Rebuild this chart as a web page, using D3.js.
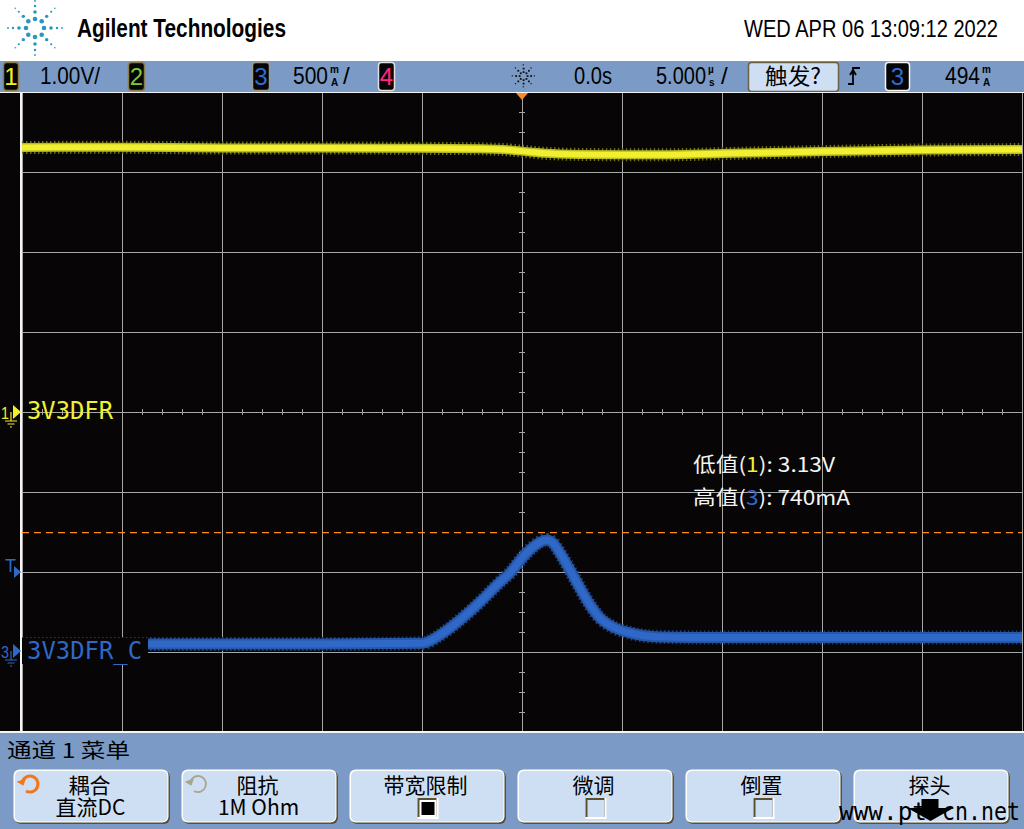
<!DOCTYPE html>
<html><head><meta charset="utf-8">
<script src="https://cdn.jsdelivr.net/npm/d3@7/dist/d3.min.js"></script>
<style>html,body{margin:0;padding:0;background:#fff;overflow:hidden}svg{display:block}</style>
</head><body><svg id="c" width="1024" height="829"></svg>
<script>
// ---------------- data ----------------
const timeTicksUs = [-25,-20,-15,-10,-5,0,5,10,15,20,25];        // 5.000 µs/div
const voltDivs = [4,3,2,1,0,-1,-2,-3,-4];                           // vertical divisions
const ch1TimeUs = [-25,-20,-15,-10,-5,-2.1,-0.6,0.4,1.15,2.9,5,7.5,10,15,20,25];
const ch1Volts  = [3.306,3.31,3.30,3.30,3.296,3.29,3.275,3.25,3.234,3.22,3.216,3.216,3.23,3.256,3.275,3.28];
const ch3TimeUs = [-25,-18,-10,-5,-4.1,-3.1,-2.1,-1.1,-0.6,0,0.55,0.9,1.25,1.55,1.9,2.4,2.9,3.4,3.9,4.55,5.4,6.9,10,25];
const ch3mA     = [44,44,44,48,100,194,306,431,488,581,650,681,694,675,613,506,394,288,206,150,113,88,84,84];
const triggerLevel_mA = 494;
const maxCursor_mA = 740;
const headerTitle = "Agilent Technologies";
const headerDate = "WED APR 06 13:09:12 2022";
const ch1Label = "3V3DFR", ch3Label = "3V3DFR_C";
const measLines = [["低值(","1","): 3.13V"],["高值(","3","): 740mA"]];
const menuTitle = "通道 1 菜单";
const menuTop = ["耦合","阻抗","带宽限制","微调","倒置","探头"];
const menuBottom = ["直流DC","1M Ohm","","","",""];
const menuCtrl = ["knob","knobDim","checkOn","checkOff","checkOff","arrow"];

// ---------------- setup ----------------
const svg = d3.select('#c');
const FONT = '"Liberation Sans", Arial, "Noto Sans CJK SC", sans-serif';
const CJK = '"Noto Sans CJK SC", "Liberation Sans", sans-serif';
const MONO = '"DejaVu Sans Mono", "Liberation Mono", monospace';
const BAR = '#7b9bc6', BTN = '#cfdff3', DARK = '#5a5030';
const YEL = '#f0f030', BLU = '#2f68c6', ORG = '#ff8a1c';

const G = {left:22, right:1022, top:92, bottom:732};
const x = d3.scaleLinear().domain([-25,25]).range([G.left,G.right]);
const yDiv = d3.scaleLinear().domain([4,-4]).range([G.top,G.bottom]);
const yV = d3.scaleLinear().domain([0,1]).range([412,332]);      // ch1 1.00 V/div
const yA = d3.scaleLinear().domain([0,500]).range([651,571]);    // ch3 500 mA/div

function txt(g, s, o){
  const t = g.append('text').text(s)
    .attr('x',o.x).attr('y',o.y)
    .attr('font-family',o.ff||FONT).attr('font-size',o.fs||20)
    .attr('fill',o.fill||'#000');
  if(o.anchor) t.attr('text-anchor',o.anchor);
  if(o.fw) t.attr('font-weight',o.fw);
  if(o.len) t.attr('textLength',o.len).attr('lengthAdjust','spacingAndGlyphs');
  return t;
}

// ---------------- header ----------------
svg.append('rect').attr('width',1024).attr('height',61).attr('fill','#fff');
const logo = svg.append('g').attr('fill','#2a97bd');
const cx0=35, cy0=28;
d3.range(8).forEach(i=>{
  const a = i*Math.PI/4 - Math.PI/2;
  const card = i%2===0;
  const rings = card ? [[9,2.3],[16,1.8],[22,1.2],[27,0.9]] : [[9.5,2.3],[16.5,1.7],[23,1.1],[28,0.8]];
  rings.forEach(([r,s])=>logo.append('circle').attr('cx',cx0+r*Math.cos(a)).attr('cy',cy0+r*Math.sin(a)).attr('r',s));
});
txt(svg, headerTitle, {x:77,y:37,fs:25,fw:'bold',len:209});
txt(svg, headerDate, {x:744,y:37,fs:24,len:254});

// ---------------- status bar ----------------
svg.append('rect').attr('y',61).attr('width',1024).attr('height',31).attr('fill',BAR);
function chBox(x0,w,digit,col,border){
  svg.append('rect').attr('x',x0+0.5).attr('y',62.5).attr('width',w).attr('height',28).attr('rx',3)
    .attr('fill','#050505').attr('stroke',border).attr('stroke-width',1.5);
  txt(svg,digit,{x:x0+w/2+0.5,y:84.5,fs:24,fill:col,anchor:'middle'});
}
// value with stacked unit (e.g. 500 m/A /)
function valueUnit(x0, num, numLen, top, bottom, slash){
  txt(svg,num,{x:x0,y:84,fs:24,len:numLen});
  const ux = x0+numLen+2;
  txt(svg,top,{x:ux,y:73,fs:10,fw:'bold'});
  txt(svg,bottom,{x:ux+1,y:86,fs:10,fw:'bold'});
  if(slash) txt(svg,'/',{x:ux+13,y:84,fs:24});
}
chBox(3,15,'1','#f4f020','#8a7d50');
txt(svg,'1.00V/',{x:40,y:84,fs:24,len:60});
chBox(128,16,'2','#7ec832','#8a7d50');
chBox(252,17,'3','#2f6bd0','#9a9a8a');
valueUnit(293,'500',35,'m','A',true);
chBox(378,16,'4','#ff2a80','#e0e0e0');
// acquisition starburst icon
const ic = svg.append('g').attr('fill','#111');
d3.range(8).forEach(i=>{
  const a=i*Math.PI/4;
  [4,7.5,11].forEach((r,k)=>ic.append('rect').attr('x',523.5+r*Math.cos(a)-0.8).attr('y',76+r*Math.sin(a)-0.8)
    .attr('width',k===2?1.2:1.8).attr('height',k===2?1.2:1.8));
});
txt(svg,'0.0s',{x:574,y:84,fs:24,len:38});
valueUnit(656,'5.000',50,'µ','s',true);
svg.append('rect').attr('x',748.5).attr('y',62.5).attr('width',90).attr('height',29).attr('rx',3)
  .attr('fill',BTN).attr('stroke','#6b6040').attr('stroke-width',1.5);
txt(svg,'触发?',{x:793,y:84,fs:22,ff:CJK,anchor:'middle',len:56});
svg.append('path').attr('d','M848,84 H853 V68 H860 M850,75 L853,70 L856,75')
  .attr('fill','none').attr('stroke','#000').attr('stroke-width',1.8);
svg.append('rect').attr('x',885.5).attr('y',62.5).attr('width',24).attr('height',28).attr('rx',3)
  .attr('fill','#050505').attr('stroke','#f4f4f4').attr('stroke-width',1.5);
txt(svg,'3',{x:897.5,y:84.5,fs:24,fill:'#2f6bd0',anchor:'middle'});
valueUnit(945,'494',35,'m','A',false);

// ---------------- screen ----------------
svg.append('rect').attr('y',92).attr('width',1024).attr('height',641).attr('fill','#070505');
const grid = svg.append('g').attr('stroke','#a6a6a6').attr('stroke-width',1).attr('shape-rendering','crispEdges');
timeTicksUs.forEach(t=>grid.append('line').attr('x1',x(t)).attr('x2',x(t)).attr('y1',G.top).attr('y2',G.bottom));
voltDivs.forEach(d=>grid.append('line').attr('x1',G.left).attr('x2',G.right).attr('y1',yDiv(d)).attr('y2',yDiv(d)));
const tk = svg.append('g').attr('stroke','#a6a6a6').attr('stroke-width',1).attr('shape-rendering','crispEdges');
d3.range(-25,25.01,1).forEach(t=>tk.append('line').attr('x1',x(t)).attr('x2',x(t)).attr('y1',yDiv(0)-3).attr('y2',yDiv(0)+3));
d3.range(-4,4.01,0.25).forEach(d=>tk.append('line').attr('x1',x(0)-3).attr('x2',x(0)+3).attr('y1',yDiv(d)).attr('y2',yDiv(d)));
const fr = svg.append('g').attr('stroke','#f4f4f4').attr('stroke-width',1.5).attr('shape-rendering','crispEdges');
fr.append('line').attr('x1',21).attr('x2',21).attr('y1',92).attr('y2',733);
fr.append('line').attr('x1',0).attr('x2',1024).attr('y1',92.5).attr('y2',92.5);
fr.append('line').attr('x1',0).attr('x2',1024).attr('y1',732).attr('y2',732);

// max cursor dashed
svg.append('line').attr('x1',G.left).attr('x2',G.right).attr('y1',yA(maxCursor_mA)).attr('y2',yA(maxCursor_mA))
  .attr('stroke',ORG).attr('stroke-width',1.3).attr('stroke-dasharray','7,5');

// traces
const line1 = d3.line().x((d,i)=>x(ch1TimeUs[i])).y(d=>yV(d)).curve(d3.curveMonotoneX);
const line3 = d3.line().x((d,i)=>x(ch3TimeUs[i])).y(d=>yA(d)).curve(d3.curveMonotoneX);
const tr = svg.append('g').attr('fill','none').attr('stroke-linejoin','round');
tr.append('path').attr('d',line1(ch1Volts)).attr('stroke','#6d6d1c').attr('stroke-width',13).attr('stroke-dasharray','1.5,2.5');
tr.append('path').attr('d',line1(ch1Volts)).attr('stroke','#b8b828').attr('stroke-width',9);
tr.append('path').attr('d',line1(ch1Volts)).attr('stroke',YEL).attr('stroke-width',6);
tr.append('path').attr('d',line3(ch3mA)).attr('stroke','#1d3f7e').attr('stroke-width',14).attr('stroke-dasharray','1.5,2.5');
tr.append('path').attr('d',line3(ch3mA)).attr('stroke','#2656a8').attr('stroke-width',11);
tr.append('path').attr('d',line3(ch3mA)).attr('stroke',BLU).attr('stroke-width',7);

// channel labels
svg.append('rect').attr('x',22).attr('y',638).attr('width',126).attr('height',26).attr('fill','#070505');
txt(svg,ch1Label,{x:27,y:419,fs:24,ff:MONO,fill:YEL,len:86});
txt(svg,ch3Label,{x:27,y:659,fs:24,ff:MONO,fill:BLU,len:115});

// left markers
function gndMarker(yc, digit, col){
  txt(svg,digit,{x:1,y:yc+7,fs:17,fill:col,len:8});
  svg.append('path').attr('d',`M13,${yc-7} L21,${yc} L13,${yc+7} Z`).attr('fill',col);
  svg.append('path').attr('d',`M11,${yc} V${yc+9} M5,${yc+9} H17 M7.5,${yc+12} H14.5 M10,${yc+15} H12`)
    .attr('stroke',col).attr('stroke-width',1.2).attr('fill','none');
}
gndMarker(yV(0),'1',YEL);
gndMarker(yA(0),'3',BLU);
txt(svg,'T',{x:5,y:572,fs:18,fill:BLU,len:11});
svg.append('path').attr('d',`M14,${yA(triggerLevel_mA)-6} L21,${yA(triggerLevel_mA)} L14,${yA(triggerLevel_mA)+6} Z`).attr('fill',BLU);
svg.append('path').attr('d',`M${x(0)-6},93 L${x(0)+6},93 L${x(0)},100 Z`).attr('fill',ORG);

// measurement readouts
measLines.forEach((parts,i)=>{
  const t = svg.append('text').attr('x',693).attr('y',472+i*33).attr('font-family',CJK).attr('font-size',20)
    .attr('fill','#f4f4f4').attr('textLength',i===0?142:157).attr('lengthAdjust','spacingAndGlyphs');
  t.append('tspan').text(parts[0]);
  t.append('tspan').text(parts[1]).attr('fill',i===0?YEL:BLU);
  t.append('tspan').text(parts[2]);
});

// ---------------- softkey menu ----------------
svg.append('rect').attr('y',733).attr('width',1024).attr('height',96).attr('fill',BAR);
txt(svg,menuTitle,{x:7,y:758,fs:20,ff:CJK,len:123});
const bx = d3.scaleLinear().domain([0,1]).range([14,182]);
menuTop.forEach((lab,i)=>{
  const x0 = bx(i), w=155, y0=770, h=53, c=x0+w/2;
  const g = svg.append('g');
  g.append('rect').attr('x',x0+1).attr('y',y0+1).attr('width',w).attr('height',h).attr('rx',6).attr('fill',DARK);
  g.append('rect').attr('x',x0-0.5).attr('y',y0-0.5).attr('width',w).attr('height',h).attr('rx',6).attr('fill','#fff');
  g.append('rect').attr('x',x0+1).attr('y',y0+1).attr('width',w-2.5).attr('height',h-2.5).attr('rx',5).attr('fill',BTN);
  txt(g,lab,{x:c-2,y:793,fs:21,ff:CJK,anchor:'middle'});
  if(menuBottom[i]) txt(g,menuBottom[i],{x:c-1,y:815,fs:21,ff:CJK,anchor:'middle'});
  const k = menuCtrl[i];
  if(k==='knob'||k==='knobDim'){
    const col = k==='knob'?'#f07818':'#a9a68c', sw = k==='knob'?3:1.8;
    const kx=x0+16, ky=784, r=8;
    g.append('path').attr('d',`M${kx-r},${ky} A${r},${r} 0 1 1 ${kx-r*0.5},${ky+r*0.87}`)
      .attr('fill','none').attr('stroke',col).attr('stroke-width',sw);
    g.append('path').attr('d',`M${kx-r-5},${ky-4} L${kx-r+5},${ky-4} L${kx-r},${ky+2} Z`).attr('fill',col)
      .attr('transform',`rotate(-20 ${kx-r} ${ky-2})`);
  } else if(k==='checkOn'||k==='checkOff'){
    const qx=c-10, qy=798;
    g.append('rect').attr('x',qx).attr('y',qy).attr('width',21).attr('height',21).attr('fill','#fff');
    g.append('rect').attr('x',qx).attr('y',qy).attr('width',19).attr('height',19).attr('fill',DARK);
    g.append('rect').attr('x',qx+2).attr('y',qy+2).attr('width',17).attr('height',17).attr('fill',k==='checkOn'?'#fff':BTN);
    if(k==='checkOn') g.append('rect').attr('x',qx+4).attr('y',qy+4).attr('width',13).attr('height',13).attr('fill','#000');
  } else if(k==='arrow'){
    g.append('path').attr('d',`M${c-10},799 H${c+7} V808 H${c+22} L${c-1},821 L${c-24},808 H${c-10} Z`).attr('fill','#000');
  }
});
// watermark
txt(svg,'www.pt',{x:839,y:820,fs:24,ff:MONO,len:88});
txt(svg,'cn.net',{x:942,y:820,fs:24,ff:MONO,len:78});
</script></body></html>
